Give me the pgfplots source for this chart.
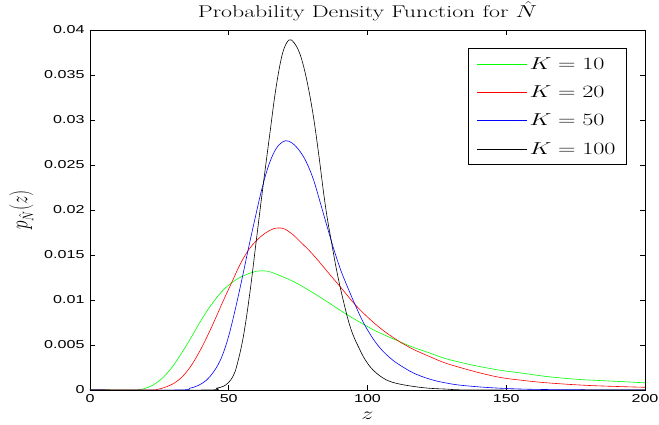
\documentclass[border=0pt]{standalone}
\usepackage{fontspec}
\newfontfamily\tickfont{Liberation Sans}
\usepackage{pgfplots}
\pgfplotsset{compat=1.18}
\newcommand{\sx}[1]{\scalebox{1.4}[1]{#1}}
\definecolor{mgreen}{rgb}{0,1,0}
\definecolor{mred}{rgb}{1,0,0}
\definecolor{mblue}{rgb}{0,0,1}

\begin{document}
\begin{tikzpicture}
\useasboundingbox (-90pt,-35pt) rectangle (569pt,390pt);
\begin{axis}[
  scale only axis, width=555pt, height=360pt,
  at={(0pt,0pt)}, anchor=south west,
  xmin=0, xmax=200, ymin=0, ymax=0.04,
  xtick={0,50,100,150,200},
  ytick={0,0.005,0.01,0.015,0.02,0.025,0.03,0.035,0.04},
  tick align=inside, major tick length=5pt,
  scaled y ticks=false,
  axis line style={line width=0.7pt},
  every tick/.style={line width=0.6pt, black},
  xticklabel={\sx{\tickfont\fontsize{11.5}{13}\selectfont\pgfmathprintnumber[assume math mode=true]{\tick}}},
  yticklabel={\sx{\tickfont\fontsize{11.5}{13}\selectfont\pgfmathprintnumber[fixed,precision=3,assume math mode=true]{\tick}}},
  xticklabel style={yshift=-1pt},
  yticklabel style={xshift=-2pt},
  title={\sx{\fontsize{17}{19}\selectfont Probability Density Function for $\hat N$}},
  title style={at={(0.5,1)}, anchor=south, yshift=-0.5pt},
  xlabel={\sx{\fontsize{16}{18}\selectfont $z$}},
  xlabel style={at={(0.5,0)}, anchor=north, yshift=-19pt},
  ylabel={\scalebox{1}[1.4]{\fontsize{16}{18}\selectfont $p_{\hat N}(z)$}},
  ylabel style={at={(0,0.5)}, anchor=south, rotate=0, yshift=53pt},
  legend style={at={(1,1)}, anchor=north east, xshift=-18pt, yshift=-18pt,
    draw=black, line width=0.7pt, font=\fontsize{17}{19}\selectfont,
    row sep=11pt, inner xsep=9pt, inner ysep=7pt},
  legend image code/.code={\draw[#1,line width=0.6pt] (0pt,0pt) -- (50pt,0pt);},
  legend cell align=left,
]
\addplot[color=mgreen, line width=0.6pt, smooth, tension=0.6] coordinates {
(0,0) (15,0) (18,0.00005) (21,0.0003) (24,0.0008) (27,0.0016) (30,0.0027) (33,0.0041) (36,0.0056) (39,0.0072) (42,0.0087) (45,0.0100) (48,0.0111) (51,0.0119) (54,0.0125) (57,0.0129) (60,0.0132) (62,0.01325) (64,0.0132) (67,0.0129) (70,0.0125) (73,0.0121) (76,0.0116) (79.3,0.0110) (83,0.0103) (86.5,0.0096) (92.5,0.0084) (99.7,0.0071) (104,0.0064) (109.9,0.0056) (116,0.0048) (122.5,0.0041) (128,0.0035) (134.5,0.0030) (140.5,0.0026) (147.7,0.0022) (155,0.0019) (164.6,0.0015) (175,0.0012) (187,0.001) (200,0.0008)};
\addlegendentry{\sx{$K=10$}}
\addplot[color=mred, line width=0.6pt, smooth, tension=0.6] coordinates {
(0,0) (21,0) (24,0.00005) (27,0.0003) (30,0.0007) (33,0.0014) (36,0.0025) (39,0.0040) (42,0.0058) (45,0.0078) (48,0.0099) (51,0.0119) (54,0.0139) (57,0.0155) (60,0.0166) (63,0.0174) (66,0.0179) (68,0.0180) (70,0.0179) (73,0.0173) (76,0.0164) (79.3,0.0154) (83,0.0141) (86.5,0.0128) (90.1,0.0115) (96.1,0.0093) (103.3,0.0072) (109.9,0.0057) (116,0.0046) (122.5,0.0037) (128,0.0030) (134.5,0.0024) (140.5,0.0019) (147.7,0.0014) (155,0.0011) (164.6,0.0008) (180,0.0005) (200,0.0003)};
\addlegendentry{\sx{$K=20$}}
\addplot[color=mblue, line width=0.6pt, smooth, tension=0.6] coordinates {
(0,0) (32,0) (36,0.0002) (39,0.0005) (42,0.0011) (44.5,0.0020) (46.8,0.0032) (48.7,0.0047) (50.5,0.0066) (52.9,0.0097) (55.3,0.0131) (57,0.0156) (59.5,0.0191) (61.9,0.0223) (64,0.0246) (66,0.0262) (68,0.0272) (70.5,0.0277) (73,0.0274) (75.7,0.0265) (78,0.0253) (80.5,0.0234) (83,0.0208) (85.5,0.0181) (88,0.0155) (90.5,0.0132) (93,0.0113) (95.5,0.0095) (98.5,0.0075) (102,0.0057) (105,0.0045) (108,0.0036) (111,0.0029) (116.5,0.0019) (122.5,0.0012) (128,0.0008) (134.5,0.0005) (147.7,0.0002) (165,0.00005) (200,0)};
\addlegendentry{\sx{$K=50$}}
\addplot[color=black, line width=0.6pt, smooth, tension=0.6] coordinates {
(0,0) (42,0) (45.6,0.0002) (48,0.0004) (49.8,0.0008) (51.5,0.0015) (53,0.0028) (55.3,0.0060) (57.7,0.0110) (60,0.0168) (62.5,0.0230) (64.9,0.0287) (66.7,0.0329) (68.5,0.0362) (70,0.0380) (71.8,0.0389) (73.5,0.0386) (75.7,0.0373) (78,0.0346) (80.4,0.0306) (82.5,0.0260) (84.1,0.0221) (85.5,0.0191) (87.1,0.0163) (88.5,0.0139) (90.1,0.0115) (92.5,0.0084) (94,0.0068) (95.5,0.0056) (96.9,0.0047) (98.5,0.0037) (100.9,0.0026) (103.5,0.0018) (106.9,0.0011) (111,0.0007) (116.5,0.0004) (122,0.0002) (128.5,0.0001) (140,0) (200,0)};
\addlegendentry{\sx{$K=100$}}
\end{axis}
\end{tikzpicture}
\end{document}
